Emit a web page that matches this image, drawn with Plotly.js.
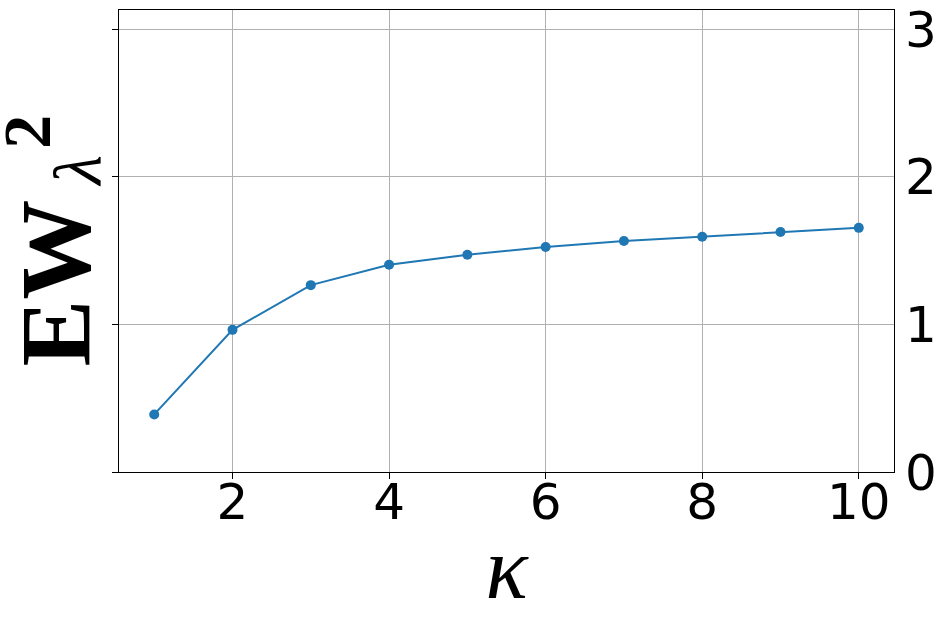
<!DOCTYPE html>
<html>
<head>
<meta charset="utf-8">
<script src="https://cdn.plot.ly/plotly-3.0.1.min.js"></script>
<style>html,body{margin:0;padding:0;background:#fff;}#chart{width:944px;height:631px;}</style>
</head>
<body>
<div id="chart"></div>
<script>
const kappa = [1, 2, 3, 4, 5, 6, 7, 8, 9, 10];
const ewValues = [0.390, 0.963, 1.266, 1.404, 1.472, 1.524, 1.565, 1.594, 1.626, 1.654];
const xTicks = [2, 4, 6, 8, 10];
const yTicks = [0, 1, 2, 3];
const yTickLabels = ['0', '1', '2', '3'];
const yTitleMain = '<b>EW</b>';
const yTitleSub = '<i>λ</i>';
const yTitleSup = '<b>2</b>';
const xTitle = '<i>κ</i>';

const traces = [
  {
    x: kappa, y: ewValues, type: 'scatter', mode: 'lines+markers',
    line: {color: '#1f77b4', width: 2},
    marker: {color: '#1f77b4', size: 10},
    showlegend: false, hoverinfo: 'skip'
  },
  {
    x: kappa, y: ewValues, type: 'scatter', mode: 'markers', yaxis: 'y2',
    marker: {opacity: 0}, showlegend: false, hoverinfo: 'skip'
  }
];

const titleFont = (size) => ({family: 'Liberation Serif', size: size, color: '#000'});

const layout = {
  width: 944, height: 631,
  paper_bgcolor: '#fff', plot_bgcolor: '#fff',
  margin: {l: 119, r: 50, t: 10, b: 159, pad: 0},
  font: {family: 'DejaVu Sans', color: '#000'},
  xaxis: {
    range: [0.55, 10.45], tickvals: xTicks, ticktext: xTicks.map(String),
    showgrid: true, gridcolor: '#b0b0b0', gridwidth: 1,
    zeroline: false, showline: true, linecolor: '#000', linewidth: 1, mirror: true,
    ticks: 'outside', ticklen: 6, tickcolor: '#000', tickwidth: 1,
    ticklabelstandoff: -20,
    tickfont: {family: 'DejaVu Sans', size: 50, color: '#000'},
    title: {text: xTitle, font: titleFont(88), standoff: 6},
    automargin: false
  },
  yaxis: {
    range: [0, 3.13], tickvals: yTicks,
    showticklabels: false,
    showgrid: true, gridcolor: '#b0b0b0', gridwidth: 1,
    zeroline: false, showline: true, linecolor: '#000', linewidth: 1, mirror: true,
    ticks: 'outside', ticklen: 6, tickcolor: '#000', tickwidth: 1,
    automargin: false
  },
  yaxis2: {
    range: [0, 3.13], tickvals: yTicks, ticktext: yTickLabels,
    overlaying: 'y', side: 'right',
    showgrid: false, zeroline: false, showline: false,
    ticks: '', ticklabelstandoff: 10,
    tickfont: {family: 'DejaVu Sans', size: 50, color: '#000'},
    automargin: false
  },
  annotations: [
    {
      text: yTitleMain, xref: 'paper', yref: 'paper',
      x: -0.0813, y: 0.410, xanchor: 'center', yanchor: 'middle',
      textangle: -90, showarrow: false, font: titleFont(100)
    },
    {
      text: yTitleSub, xref: 'paper', yref: 'paper',
      x: -0.0523, y: 0.6515, xanchor: 'center', yanchor: 'middle',
      textangle: -90, showarrow: false, font: titleFont(68)
    },
    {
      text: yTitleSup, xref: 'paper', yref: 'paper',
      x: -0.119, y: 0.7359, xanchor: 'center', yanchor: 'middle',
      textangle: -90, showarrow: false, font: titleFont(68)
    }
  ]
};

Plotly.newPlot('chart', traces, layout, {displayModeBar: false, staticPlot: true});
</script>
</body>
</html>
